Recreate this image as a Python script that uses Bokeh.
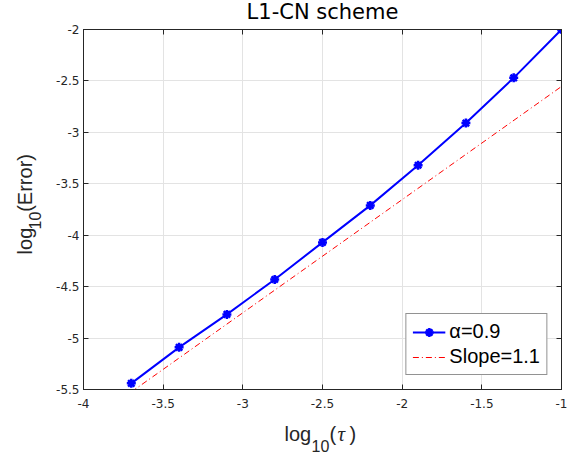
import math
from bokeh.plotting import figure
from bokeh.models import Range1d, LinearAxis, FixedTicker, Label, Legend, LegendItem
from bokeh.layouts import column, row
from bokeh.embed import file_html
from bokeh.resources import INLINE

# ---- data ----
log_tau = [-3.7, -3.4, -3.1, -2.8, -2.5, -2.2, -1.9, -1.6, -1.3, -1.0]
log_err = [-5.44, -5.09, -4.77, -4.43, -4.07, -3.71, -3.32, -2.91, -2.47, -2.00]
slope_x = [-3.7, -1.0]
slope_y = [-5.524, -2.554]

x_ticks = [-4, -3.5, -3, -2.5, -2, -1.5, -1]
x_tick_labels = ["-4", "-3.5", "-3", "-2.5", "-2", "-1.5", "-1"]
y_ticks = [-5.5, -5, -4.5, -4, -3.5, -3, -2.5, -2]
y_tick_labels = ["-5.5", "-5", "-4.5", "-4", "-3.5", "-3", "-2.5", "-2"]

title_text = "L1-CN scheme"
series_label = "α=0.9"
slope_label = "Slope=1.1"
x_label_parts = ["log", "10", "(", "τ", ")"]
y_label_parts = ["log", "10", "(Error)"]

AX = "#262626"
SANS = "Liberation Sans"
TICKFONT = "DejaVu Sans"

W, H = 568, 456
TITLE_H = 23
YLAB_W = 44
MAIN_H = 389
XLAB_H = H - TITLE_H - MAIN_H

# empirical shift of the "alphabetic" anchor of Label text (fraction of font size)
BSHIFT = 0.32


def text_canvas(w, h):
    f = figure(width=w, height=h, x_range=Range1d(0, w), y_range=Range1d(0, h),
               x_axis_type=None, y_axis_type=None, min_border=0,
               output_backend="svg", toolbar_location=None)
    f.outline_line_color = None
    f.background_fill_color = "white"
    f.border_fill_color = "white"
    return f


def htext(f, x, y, txt, size, font=SANS, style="normal", color=AX, align="left"):
    f.add_layout(Label(x=x, y=y + BSHIFT * size, text=txt, text_align=align,
                       text_baseline="alphabetic", text_font=font,
                       text_font_style=style, text_font_size=f"{size}px",
                       text_color=color))


def vtext(f, x, y, txt, size, font=SANS, color=AX):
    f.add_layout(Label(x=x - BSHIFT * size, y=y, angle=math.pi / 2, text=txt,
                       text_align="left", text_baseline="alphabetic", text_font=font,
                       text_font_size=f"{size}px", text_color=color))


# ---- main plot ----
p = figure(width=W - YLAB_W, height=MAIN_H,
           x_range=Range1d(-4, -1), y_range=Range1d(-5.5, -2),
           output_backend="svg", toolbar_location=None,
           min_border_left=39, min_border_right=7,
           min_border_top=6, min_border_bottom=23)
p.background_fill_color = "white"
p.border_fill_color = "white"
p.outline_line_color = AX

x_over = {float(t): l for t, l in zip(x_ticks, x_tick_labels)}
y_over = {float(t): l for t, l in zip(y_ticks, y_tick_labels)}
x_blank = {float(t): "" for t in x_ticks}
y_blank = {float(t): "" for t in y_ticks}


def style_axis(ax, ticks, overrides, standoff, show_labels=True):
    ax.ticker = FixedTicker(ticks=ticks)
    ax.axis_line_color = AX
    ax.axis_line_width = 1
    ax.major_tick_line_color = AX
    ax.major_tick_in = 5
    ax.major_tick_out = 0
    ax.minor_tick_line_color = None
    ax.major_label_overrides = overrides
    ax.major_label_text_font = TICKFONT
    ax.major_label_text_color = AX
    if show_labels:
        ax.major_label_text_font_size = "12px"
        ax.major_label_standoff = standoff
    else:
        ax.major_label_text_font_size = "0px"
        ax.major_label_standoff = 0


style_axis(p.xaxis[0], x_ticks, x_over, 9)
style_axis(p.yaxis[0], y_ticks, y_over, 4)

top_axis = LinearAxis()
style_axis(top_axis, x_ticks, x_blank, 0, show_labels=False)
p.add_layout(top_axis, "above")
right_axis = LinearAxis()
style_axis(right_axis, y_ticks, y_blank, 0, show_labels=False)
p.add_layout(right_axis, "right")

p.xgrid.grid_line_color = "#e3e3e3"
p.ygrid.grid_line_color = "#e3e3e3"
p.xgrid.ticker = FixedTicker(ticks=x_ticks)
p.ygrid.ticker = FixedTicker(ticks=y_ticks)

red = p.line(slope_x, slope_y, line_color="red", line_width=1, line_dash="6 3 1 3")
blue_line = p.line(log_tau, log_err, line_color="blue", line_width=2)
blue_marks = p.scatter(log_tau, log_err, marker="asterisk", size=9,
                       line_color="blue", line_width=2.5)

legend = Legend(items=[LegendItem(label=series_label, renderers=[blue_line, blue_marks]),
                       LegendItem(label=slope_label, renderers=[red])],
                location="bottom_right")
legend.border_line_color = AX
legend.border_line_width = 1
legend.background_fill_color = "white"
legend.background_fill_alpha = 1
legend.label_text_font = SANS
legend.label_text_font_size = "20px"
legend.label_text_color = "black"
legend.glyph_width = 33
legend.glyph_height = 22
legend.label_height = 22
legend.label_standoff = 4
legend.spacing = 2
legend.padding = 6
legend.margin = 14
p.add_layout(legend)

# ---- title strip ----
t = text_canvas(W, TITLE_H)
htext(t, 322, 4.5, title_text, 21, font="DejaVu Sans", color="black", align="center")

# ---- y label strip: log_10(Error), rotated ----
yl = text_canvas(YLAB_W, MAIN_H)
vtext(yl, 31, 146, y_label_parts[0], 20)
vtext(yl, 40, 173, y_label_parts[1], 16)
vtext(yl, 31, 192, y_label_parts[2], 20)

# ---- x label strip: log_10(tau) ----
xl = text_canvas(W, XLAB_H)
htext(xl, 284, 16, x_label_parts[0], 20)
htext(xl, 311, 5, x_label_parts[1], 16)
htext(xl, 329, 16, x_label_parts[2], 20)
htext(xl, 337, 16, x_label_parts[3], 21, font="Liberation Serif", style="italic")
htext(xl, 349, 16, x_label_parts[4], 20)

layout = column(t, row(yl, p), xl)
open("out.html", "w").write(file_html(layout, INLINE))
